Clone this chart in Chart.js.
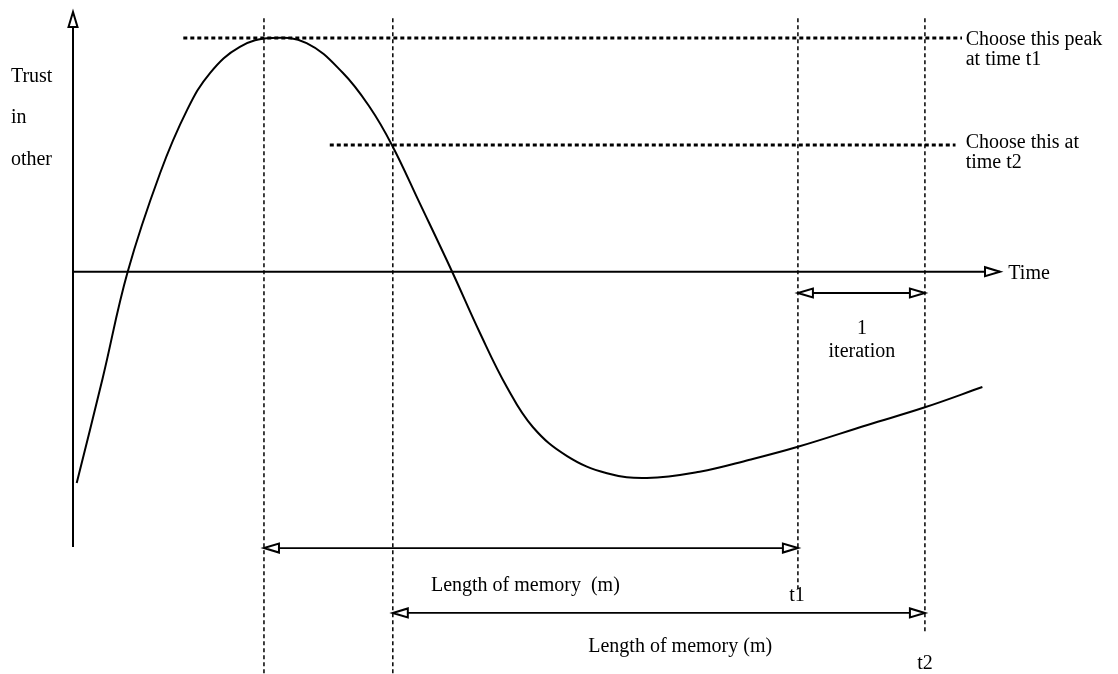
<!DOCTYPE html>
<html>
<head>
<meta charset="utf-8">
<title>Trust in other</title>
<script src="https://cdn.jsdelivr.net/npm/chart.js@4/dist/chart.umd.min.js"></script>
<style>
  body { margin: 0; background: #fff; }
  canvas { display: block; }
</style>
</head>
<body>
<canvas id="myChart" width="1118" height="674"></canvas>
<script>
// curve: trust in the other over time
const timeValues  = [0.04, 0.32, 0.59, 0.94, 1.23, 1.48, 1.80, 2.14, 2.52, 2.91, 3.20, 3.44, 3.74, 4.09, 4.39, 4.68, 4.96, 5.33, 5.76, 6.19, 6.76, 7.30, 7.82, 8.57, 9.19, 9.81];
const trustValues = [-4.07, -2.05, 0, 1.90, 3.11, 3.83, 4.33, 4.50, 4.40, 3.83, 3.17, 2.44, 1.32, 0, -1.18, -2.22, -2.99, -3.55, -3.88, -3.97, -3.85, -3.62, -3.37, -2.95, -2.61, -2.22];

// vertical dotted guides: peak time, second choice, t1, t2
const guideTimes   = [2.06, 3.45, 7.82, 9.19];
const guideTop     = 4.88;
const guideBottoms = [-7.75, -7.75, -6.13, -6.94];

// horizontal dotted levels: peak chosen at t1, value chosen at t2
const levelTrust = [4.5, 2.44];
const levelFrom  = [1.19, 2.77];
const levelTo    = [9.59, 9.52];

// memory windows (m) ending at t1 and t2
const memoryFrom  = [2.06, 3.45];
const memoryTo    = [7.82, 9.19];
const memoryLevel = [-5.32, -6.57];

// one iteration between t1 and t2
const iterationSpan  = [7.82, 9.19];
const iterationLevel = -0.41;

const axisMin = { t: 0, v: -5.3 };
const axisMax = { t: 10, v: 5 };

const FONT = '20px "Liberation Serif", "Times New Roman", serif';

// texts placed in data units
const notes = [
  { text: 'Trust', t: -0.67, v: 3.65, align: 'left' },
  { text: 'in', t: -0.67, v: 2.86, align: 'left' },
  { text: 'other', t: -0.67, v: 2.05, align: 'left' },
  { text: 'Choose this peak', t: 9.63, v: 4.36, align: 'left' },
  { text: 'at time t1', t: 9.63, v: 3.98, align: 'left' },
  { text: 'Choose this at', t: 9.63, v: 2.38, align: 'left' },
  { text: 'time t2', t: 9.63, v: 2.0, align: 'left' },
  { text: 'Time', t: 10.09, v: -0.14, align: 'left' },
  { text: '1', t: 8.51, v: -1.2, align: 'center' },
  { text: 'iteration', t: 8.51, v: -1.64, align: 'center' },
  { text: 'Length of memory  (m)', t: 4.88, v: -6.15, align: 'center' },
  { text: 't1', t: 7.81, v: -6.34, align: 'center' },
  { text: 'Length of memory (m)', t: 6.55, v: -7.32, align: 'center' },
  { text: 't2', t: 9.19, v: -7.65, align: 'center' },
];

const seg = (x1, y1, x2, y2) => [{ x: x1, y: y1 }, { x: x2, y: y2 }];

const datasets = [];

// axes
datasets.push({ data: seg(0, axisMin.v, 0, axisMax.v), borderColor: '#000', borderWidth: 2 });
datasets.push({ data: seg(0, 0, axisMax.t, 0), borderColor: '#000', borderWidth: 2 });

// vertical guides
guideTimes.forEach((t, i) => {
  datasets.push({ data: seg(t, guideTop, t, guideBottoms[i]), borderColor: '#000', borderWidth: 1.5, borderDash: [4, 3] });
});

// horizontal levels
levelTrust.forEach((v, i) => {
  datasets.push({ data: seg(levelFrom[i], v, levelTo[i], v), borderColor: '#000', borderWidth: 3, borderDash: [4, 3] });
});

// memory and iteration arrows (shafts)
memoryFrom.forEach((t, i) => {
  datasets.push({ data: seg(t, memoryLevel[i], memoryTo[i], memoryLevel[i]), borderColor: '#000', borderWidth: 1.8 });
});
datasets.push({ data: seg(iterationSpan[0], iterationLevel, iterationSpan[1], iterationLevel), borderColor: '#000', borderWidth: 1.8 });

// the trust curve
datasets.push({
  data: timeValues.map((t, i) => ({ x: t, y: trustValues[i] })),
  borderColor: '#000',
  borderWidth: 2,
  tension: 0.4,
});

datasets.forEach(d => { d.showLine = true; d.pointRadius = 0; d.clip = false; d.fill = false; });

// open triangle arrow heads + texts
const extras = {
  id: 'extras',
  afterDatasetsDraw(chart) {
    const ctx = chart.ctx;
    const xs = chart.scales.x, ys = chart.scales.y;
    const px = t => xs.getPixelForValue(t);
    const py = v => ys.getPixelForValue(v);

    const head = (x, y, angle) => {
      ctx.save();
      ctx.translate(x, y);
      ctx.rotate(angle);
      ctx.beginPath();
      ctx.moveTo(0, 0);
      ctx.lineTo(-15, -4.5);
      ctx.lineTo(-15, 4.5);
      ctx.closePath();
      ctx.fillStyle = '#fff';
      ctx.fill();
      ctx.lineWidth = 2;
      ctx.strokeStyle = '#000';
      ctx.stroke();
      ctx.restore();
    };

    head(px(0), py(axisMax.v), -Math.PI / 2);
    head(px(axisMax.t), py(0), 0);
    memoryFrom.forEach((t, i) => {
      head(px(t), py(memoryLevel[i]), Math.PI);
      head(px(memoryTo[i]), py(memoryLevel[i]), 0);
    });
    head(px(iterationSpan[0]), py(iterationLevel), Math.PI);
    head(px(iterationSpan[1]), py(iterationLevel), 0);

    ctx.save();
    ctx.font = FONT;
    ctx.fillStyle = '#000';
    ctx.textBaseline = 'alphabetic';
    notes.forEach(n => {
      ctx.textAlign = n.align;
      ctx.fillText(n.text, px(n.t), py(n.v));
    });
    ctx.restore();
  }
};

const ctx = document.getElementById('myChart').getContext('2d');
new Chart(ctx, {
  type: 'scatter',
  data: { datasets },
  options: {
    responsive: false,
    animation: false,
    layout: { padding: { left: 73, right: 118, top: 12, bottom: 127 } },
    scales: {
      x: { type: 'linear', min: axisMin.t, max: axisMax.t, display: false },
      y: { type: 'linear', min: axisMin.v, max: axisMax.v, display: false },
    },
    plugins: { legend: { display: false }, tooltip: { enabled: false } },
  },
  plugins: [extras],
});
</script>
</body>
</html>
